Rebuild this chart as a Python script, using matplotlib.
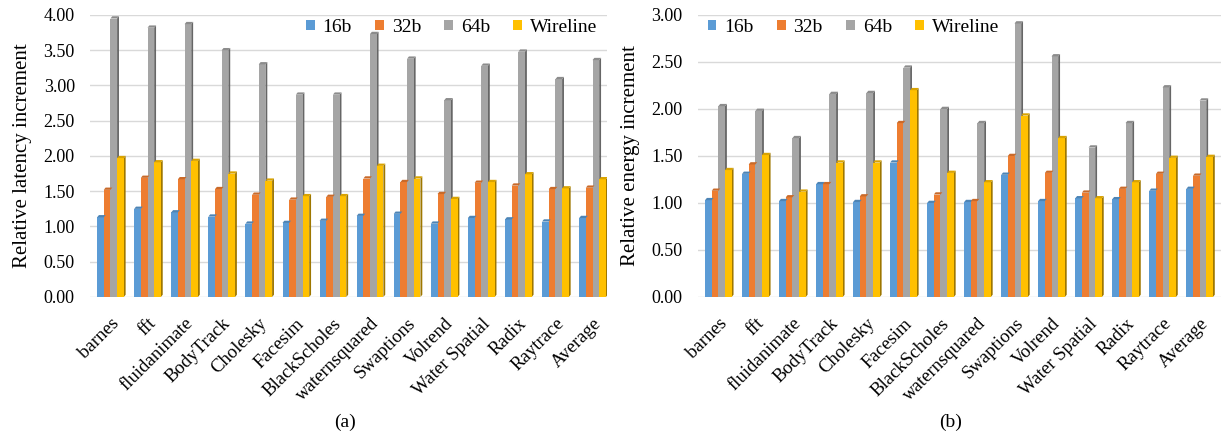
import numpy as np
import matplotlib
matplotlib.use("Agg")
import matplotlib.pyplot as plt
from matplotlib.colors import to_rgb

plt.rcParams['font.family'] = ['Liberation Serif', 'DejaVu Serif']

categories = ["barnes", "fft", "fluidanimate", "BodyTrack", "Cholesky", "Facesim",
              "BlackScholes", "waternsquared", "Swaptions", "Volrend", "Water Spatial",
              "Radix", "Raytrace", "Average"]
series_names = ["16b", "32b", "64b", "Wireline"]

latency_16b = [1.13, 1.25, 1.20, 1.14, 1.04, 1.05, 1.08, 1.15, 1.18, 1.04, 1.12, 1.10, 1.07, 1.12]
latency_32b = [1.52, 1.69, 1.67, 1.53, 1.45, 1.38, 1.42, 1.68, 1.63, 1.46, 1.62, 1.58, 1.53, 1.55]
latency_64b = [3.95, 3.82, 3.87, 3.50, 3.30, 2.87, 2.87, 3.73, 3.38, 2.79, 3.28, 3.48, 3.09, 3.36]
latency_wire = [1.97, 1.91, 1.93, 1.75, 1.65, 1.43, 1.43, 1.86, 1.68, 1.39, 1.63, 1.74, 1.54, 1.67]

energy_16b = [1.03, 1.31, 1.02, 1.20, 1.01, 1.43, 1.00, 1.01, 1.30, 1.02, 1.05, 1.04, 1.13, 1.15]
energy_32b = [1.13, 1.41, 1.06, 1.20, 1.07, 1.85, 1.09, 1.02, 1.50, 1.32, 1.11, 1.15, 1.31, 1.29]
energy_64b = [2.03, 1.98, 1.69, 2.16, 2.17, 2.44, 2.00, 1.85, 2.91, 2.56, 1.59, 1.85, 2.23, 2.09]
energy_wire = [1.35, 1.51, 1.12, 1.43, 1.43, 2.20, 1.32, 1.22, 1.93, 1.69, 1.05, 1.22, 1.48, 1.49]

colors = ["#5B9BD5", "#ED7D31", "#A5A5A5", "#FFC000"]


def shade(c, f):
    r, g, b = to_rgb(c)
    return (r * f, g * f, b * f)


def bars3d(ax, data, ymax, xlim, legend_loc, legend_anchor):
    x = np.arange(len(categories))
    w = 0.18
    dx = 0.05
    dy = ymax * 0.008
    for i, (vals, col, name) in enumerate(zip(data, colors, series_names)):
        xs = x - 0.36 + i * w
        ax.bar(xs, vals, width=w, align='edge', color=col, edgecolor='none',
               label=name, zorder=3)
        for xi, v in zip(xs, vals):
            # right side face
            ax.fill([xi + w, xi + w + dx, xi + w + dx, xi + w],
                    [0, dy, v + dy, v], color=shade(col, 0.62), lw=0, zorder=2.9)
            # top face
            ax.fill([xi, xi + dx, xi + w + dx, xi + w],
                    [v, v + dy, v + dy, v], color=shade(col, 0.85), lw=0, zorder=3.1)
    ax.set_xlim(*xlim)
    ax.set_ylim(0, ymax)
    ax.yaxis.grid(True, color="#d9d9d9", lw=1.0, zorder=0)
    ax.set_axisbelow(True)
    for s in ax.spines.values():
        s.set_visible(False)
    ax.tick_params(axis='both', length=0)
    ax.tick_params(axis='y', labelsize=13, pad=11)
    ax.tick_params(axis='x', labelsize=13.5, pad=13)
    ax.set_xticks(x)
    ax.set_xticklabels(categories, rotation=45, ha='right', rotation_mode='anchor')
    ax.yaxis.set_major_formatter(matplotlib.ticker.FormatStrFormatter('%.2f'))
    ax.legend(loc=legend_loc, bbox_to_anchor=legend_anchor, ncol=4, frameon=False,
              fontsize=14, handlelength=0.45, handleheight=0.45,
              handletextpad=0.4, columnspacing=1.2, borderaxespad=0.1)


fig = plt.figure(figsize=(12.25, 4.37), dpi=100)
ax1 = fig.add_axes([0.0735, 0.3204, 0.422, 0.6453])
ax2 = fig.add_axes([0.5698, 0.3204, 0.427, 0.6453])

bars3d(ax1, [latency_16b, latency_32b, latency_64b, latency_wire], 4.0,
       (-0.55, 13.39), 'upper right', (1.0, 1.02))
ax1.set_yticks(np.arange(0, 4.01, 0.5))
ax1.set_ylabel("Relative latency increment", fontsize=15, labelpad=8)

bars3d(ax2, [energy_16b, energy_32b, energy_64b, energy_wire], 3.0,
       (-0.55, 13.58), 'upper left', (0.0, 1.02))
ax2.set_yticks(np.arange(0, 3.01, 0.5))
ax2.set_ylabel("Relative energy increment", fontsize=15, labelpad=8)

fig.text(0.282, 0.034, "(a)", ha='center', va='center', fontsize=14)
fig.text(0.776, 0.034, "(b)", ha='center', va='center', fontsize=14)

fig.savefig("out.png", dpi=100)
